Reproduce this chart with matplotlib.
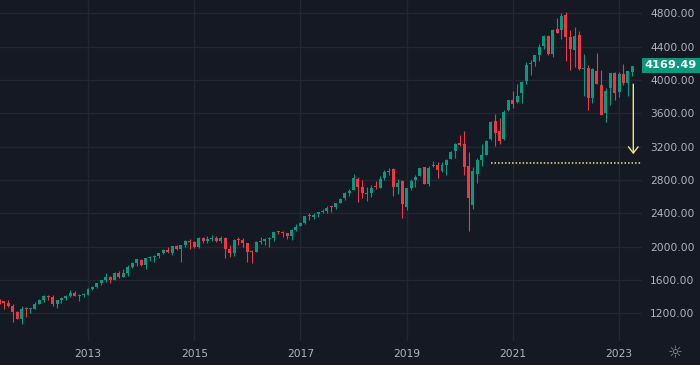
import matplotlib
matplotlib.use("Agg")
import matplotlib.pyplot as plt
import matplotlib.transforms as mtransforms
from matplotlib.patches import Rectangle
import numpy as np

# Monthly S&P 500 candles, May 2011 - Apr 2023 (open, high, low, close)
start_year, start_month = 2011, 5
opens = [1365, 1345, 1322, 1292, 1220, 1131, 1251, 1247,
         1258, 1312, 1366, 1408, 1398, 1310, 1362, 1379, 1407, 1441, 1412, 1416,
         1426, 1498, 1515, 1569, 1598, 1631, 1606, 1686, 1633, 1682, 1757, 1806,
         1846, 1783, 1859, 1873, 1884, 1924, 1960, 1930, 2004, 1972, 2018, 2066,
         2059, 1996, 2105, 2064, 2087, 2108, 2068, 2104, 1970, 1920, 2081, 2082,
         2039, 1937, 1937, 2057, 2067, 2094, 2099, 2173, 2170, 2164, 2129, 2201,
         2251, 2285, 2381, 2362, 2388, 2416, 2431, 2477, 2475, 2521, 2583, 2645,
         2683, 2816, 2715, 2634, 2643, 2719, 2705, 2821, 2897, 2926, 2718, 2790,
         2476, 2703, 2798, 2848, 2953, 2751, 2971, 2981, 2910, 2983, 3050, 3144,
         3245, 3235, 2974, 2499, 2869, 3038, 3105, 3289, 3508, 3385, 3296, 3645,
         3764, 3732, 3843, 3992, 4192, 4216, 4301, 4406, 4529, 4317, 4610, 4602,
         4778, 4519, 4363, 4540, 4130, 4149, 3781, 4113, 3937, 3609, 3901, 4087,
         3853, 4070, 3963, 4102]
highs = [1370, 1346, 1356, 1307, 1230, 1293, 1277, 1270,
         1334, 1378, 1420, 1422, 1416, 1363, 1392, 1426, 1475, 1470, 1434, 1448,
         1504, 1531, 1570, 1598, 1687, 1654, 1698, 1709, 1730, 1775, 1813, 1849,
         1850, 1867, 1884, 1897, 1924, 1968, 1991, 2005, 2019, 2018, 2075, 2094,
         2064, 2120, 2118, 2126, 2135, 2130, 2133, 2113, 2021, 2094, 2117, 2104,
         2039, 1962, 2073, 2111, 2104, 2120, 2178, 2194, 2188, 2170, 2214, 2278,
         2301, 2371, 2401, 2399, 2418, 2454, 2484, 2491, 2519, 2582, 2657, 2695,
         2873, 2836, 2801, 2718, 2743, 2791, 2848, 2917, 2941, 2940, 2815, 2800,
         2708, 2813, 2860, 2949, 2955, 2964, 3028, 3014, 3022, 3050, 3154, 3248,
         3338, 3393, 3136, 2954, 3068, 3233, 3280, 3514, 3588, 3550, 3646, 3760,
         3870, 3951, 3984, 4218, 4238, 4302, 4429, 4538, 4546, 4608, 4744, 4808,
         4819, 4595, 4637, 4593, 4308, 4177, 4140, 4325, 4119, 3906, 4080, 4101,
         4095, 4195, 4110, 4170]
lows = [1311, 1258, 1282, 1102, 1136, 1075, 1159, 1202,
        1258, 1312, 1340, 1357, 1291, 1267, 1325, 1355, 1397, 1403, 1343, 1398,
        1426, 1485, 1502, 1537, 1582, 1560, 1605, 1627, 1633, 1647, 1747, 1768,
        1770, 1737, 1834, 1814, 1859, 1915, 1930, 1905, 1964, 1821, 2001, 1973,
        1988, 1981, 2040, 2049, 2068, 2056, 2045, 1867, 1872, 1894, 2020, 1993,
        1812, 1810, 1932, 2034, 2025, 1992, 2074, 2147, 2120, 2097, 2084, 2188,
        2245, 2271, 2322, 2328, 2352, 2405, 2407, 2417, 2447, 2520, 2566, 2605,
        2683, 2533, 2586, 2554, 2594, 2691, 2699, 2796, 2864, 2604, 2631, 2347,
        2443, 2681, 2722, 2848, 2750, 2729, 2953, 2822, 2892, 2855, 3050, 3070,
        3214, 2855, 2191, 2447, 2767, 2966, 3101, 3284, 3210, 3233, 3280, 3633,
        3663, 3725, 3723, 3955, 4056, 4164, 4233, 4368, 4306, 4279, 4560, 4495,
        4223, 4115, 4157, 4124, 3810, 3637, 3721, 3955, 3584, 3491, 3699, 3765,
        3794, 3943, 3809, 4049]
closes = [1345, 1321, 1292, 1219, 1131, 1253, 1247, 1258,
          1312, 1366, 1408, 1398, 1310, 1362, 1379, 1407, 1441, 1412, 1416, 1426,
          1498, 1515, 1569, 1598, 1631, 1606, 1686, 1633, 1682, 1757, 1806, 1848,
          1783, 1859, 1872, 1884, 1924, 1960, 1931, 2003, 1972, 2018, 2068, 2059,
          1995, 2105, 2068, 2086, 2107, 2063, 2104, 1972, 1920, 2079, 2080, 2044,
          1940, 1932, 2060, 2065, 2097, 2099, 2174, 2171, 2168, 2126, 2199, 2239,
          2279, 2364, 2363, 2384, 2412, 2423, 2470, 2472, 2519, 2575, 2648, 2674,
          2824, 2714, 2641, 2648, 2705, 2718, 2816, 2902, 2914, 2712, 2760, 2507,
          2704, 2784, 2834, 2946, 2752, 2942, 2980, 2926, 2977, 3038, 3141, 3231,
          3226, 2954, 2585, 2912, 3044, 3100, 3271, 3500, 3363, 3270, 3622, 3756,
          3714, 3811, 3973, 4181, 4204, 4298, 4395, 4523, 4308, 4605, 4567, 4766,
          4516, 4374, 4530, 4132, 4132, 3785, 4130, 3955, 3586, 3872, 4080, 3840,
          4077, 3970, 4109, 4169.49]

year_ticks = [2013, 2015, 2017, 2019, 2021, 2023]
price_ticks = [1200, 1600, 2000, 2400, 2800, 3200, 3600, 4000, 4400, 4800]
last_price = 4169.49
support_level = 3000
arrow_from, arrow_to = 3950, 3110

BG = "#151924"
GRID = "#232733"
UP = "#089981"
DOWN = "#f23645"
TXT = "#b2b5be"
YEL = "#f2e27c"

plt.rcParams['font.family'] = ['DejaVu Sans']

W, H = 700, 365
fig = plt.figure(figsize=(W / 100, H / 100), dpi=100, facecolor=BG)
ax = fig.add_axes([0, 24 / H, 642 / W, 341 / H], facecolor=BG)

n = len(closes)
xs = np.array([start_year + (start_month - 1 + i) / 12 for i in range(n)])
o = np.array(opens, float); h = np.array(highs, float)
l = np.array(lows, float); c = np.array(closes, float)
cols = [UP if ci >= oi else DOWN for oi, ci in zip(o, c)]

px_per_year = 53.1
x_left = 2013 - 88 / px_per_year
x_right = 2013 + (642 - 88) / px_per_year
ax.set_xlim(x_left, x_right)
ax.set_ylim(868, 4960)

ax.vlines(xs, l, h, colors=cols, linewidth=0.8, zorder=3)
body = np.maximum(np.abs(c - o), 12)
ax.bar(xs, body, bottom=np.minimum(o, c), width=3.0 / px_per_year,
       color=cols, linewidth=0, zorder=4)

# grid
ax.set_xticks(year_ticks)
ax.set_xticklabels([str(y) for y in year_ticks])
ax.set_yticks(price_ticks)
ax.set_yticklabels([f"{p:.2f}" for p in price_ticks])
ax.grid(True, color=GRID, linewidth=1.0, zorder=0)
ax.set_axisbelow(True)
ax.yaxis.tick_right()
ax.tick_params(axis='both', length=0, colors=TXT, labelsize=7.7)
ax.tick_params(axis='y', pad=6)
ax.tick_params(axis='x', pad=6)
for s in ax.spines.values():
    s.set_visible(False)

# dotted support line
ax.plot([2013 + (491 - 88) / px_per_year, x_right], [support_level] * 2,
        linestyle=(0, (1, 1.3)), color=YEL, linewidth=1.1, zorder=5,
        clip_on=False)

# arrow
xa = 2013 + (633.3 - 88) / px_per_year
ax.annotate("", xy=(xa, arrow_to), xytext=(xa, arrow_from),
            arrowprops=dict(arrowstyle="->,head_length=0.45,head_width=0.35",
                            color=YEL, linewidth=1.0, shrinkA=0, shrinkB=0),
            zorder=6)

# last price label
trans = mtransforms.blended_transform_factory(ax.transAxes, ax.transData)
ax.add_patch(Rectangle((1.0, last_price - 90), 58 / 642, 180, transform=trans,
                       facecolor=UP, edgecolor='none', clip_on=False, zorder=7))
ax.text(1.0 + 29 / 642, last_price + 6, f"{last_price:.2f}", transform=trans,
        ha='center', va='center', color='white', fontsize=8.2,
        fontweight='bold', clip_on=False, zorder=8)

# settings icon
fig.text(675 / W, 1 - 353.5 / H, "\u263c", ha='center', va='center',
         color="#8a8e99", fontsize=12)

fig.savefig("out.png", dpi=100, facecolor=BG)
